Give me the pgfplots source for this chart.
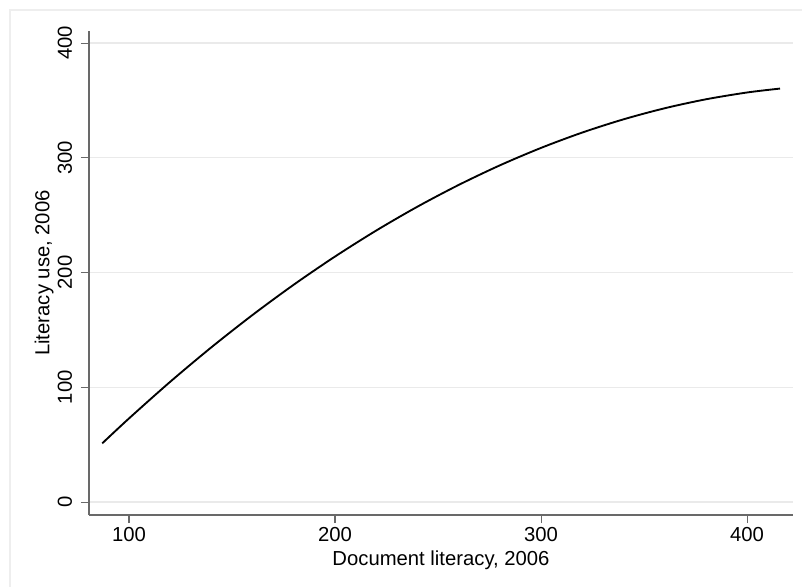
\documentclass[border=0pt]{standalone}
\usepackage{pgfplots}
\pgfplotsset{compat=1.18}
\usepackage{fontspec}
\setmainfont{Liberation Sans}
\definecolor{axgray}{RGB}{105,105,105}
\definecolor{gridgray}{RGB}{234,234,234}
\definecolor{framegray}{RGB}{238,238,238}
\begin{document}
\begin{tikzpicture}
\path[use as bounding box] (0,0) rectangle (601.5pt,440.25pt);
\fill[white] (0,0) rectangle (601.5pt,440.25pt);
\draw[framegray, line width=1.2pt] (7.5pt,0) -- (7.5pt,432.75pt) -- (601.5pt,432.75pt);
\begin{axis}[
  at={(66.75pt,54pt)}, anchor=south west,
  scale only axis, width=528pt, height=363pt,
  xmin=80.6, xmax=422.3, ymin=-11.3, ymax=410.5,
  axis x line*=bottom, axis y line*=left,
  axis line style={-, axgray, line width=0.9pt},
  xtick={100,200,300,400}, ytick={0,100,200,300,400},
  tick align=outside, major tick length=6pt,
  tick style={axgray, line width=0.8pt},
  ymajorgrids, grid style={gridgray, line width=1pt},
  /pgf/number format/assume math mode=true,
  ticklabel style={font=\fontsize{15.2}{17}\selectfont, black},
  yticklabel style={rotate=90, anchor=south, yshift=3.2pt},
  xlabel={Document literacy, 2006},
  ylabel={Literacy use, 2006},
  label style={font=\fontsize{15.2}{17}\selectfont},
  xlabel style={at={(axis description cs:0.5,-0.1033)}, anchor=base},
  ylabel style={at={(axis description cs:-0.0639,0.5)}, anchor=center},
]
\addplot[black, line width=1.4pt, smooth] coordinates {
(87,51.1) (100,72.85) (120,104.78) (140,134.85) (160,163.07) (180,189.44)
(200,213.94) (220,236.59) (240,257.39) (260,276.32) (280,293.41) (300,308.63)
(320,322.00) (340,333.51) (360,343.17) (380,350.97) (400,356.92) (416,360.33)
};
\end{axis}
\end{tikzpicture}
\end{document}
